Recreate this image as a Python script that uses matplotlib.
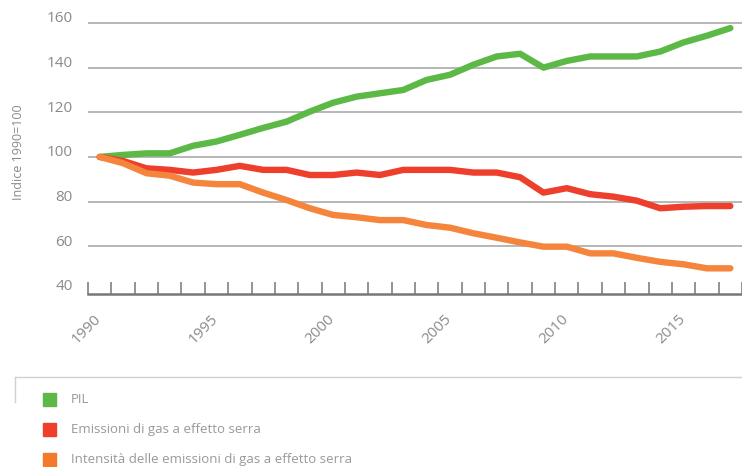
import numpy as np
import matplotlib.pyplot as plt
from matplotlib.patches import Rectangle
from matplotlib.lines import Line2D
import matplotlib.transforms as mtransforms

# %%
# Data (index 1990 = 100)
# -----------------------

years = list(range(1990, 2018))
pil = [100, 100.9, 101.6, 101.6, 105, 106.9, 109.9, 113, 115.8, 120.3,
       124.3, 127, 128.5, 130, 134.5, 136.8, 141.3, 145, 146.2, 140,
       143, 145, 145, 145, 147.2, 151.3, 154.3, 157.7]
emissioni = [100, 98.2, 94.9, 94.2, 93, 94.2, 96, 94.2, 94.2, 91.9,
             91.9, 93, 91.9, 94.2, 94.2, 94.2, 93, 93, 90.9, 84,
             86, 83.3, 82.2, 80.4, 77, 77.7, 78, 78]
intensita = [100, 97.2, 92.7, 91.6, 88.5, 87.8, 87.8, 84, 80.7, 77,
             74, 73, 71.7, 71.7, 69.5, 68.3, 65.8, 63.8, 61.7, 59.8,
             59.8, 56.8, 56.8, 54.8, 53, 51.9, 50.1, 50.1]

labels = ["PIL", "Emissioni di gas a effetto serra",
          "Intensità delle emissioni di gas a effetto serra"]
colors = ["#5cb946", "#ee3f2d", "#f5843c"]
legend_colors = ["#5cb946", "#ee3f2d", "#f47a2b"]
yticks = [40, 60, 80, 100, 120, 140, 160]

# %%
# Plot
# ----

plt.rcParams['font.family'] = ['Open Sans', 'DejaVu Sans']
grey_txt = "#8a8a8a"

W, H = 742, 467
fig = plt.figure(figsize=(W / 100, H / 100), dpi=100)
ax = fig.add_axes([88 / W, 1 - 294 / H, (W - 88) / W, (294 - 18.5) / H])

x = np.arange(len(years))
for series, c in zip([pil, emissioni, intensita], colors):
    ax.plot(x, series, color=c, lw=4.6, solid_capstyle="round",
            solid_joinstyle="round", zorder=3)

ax.set_xlim(-0.47, 27.13)
ax.set_ylim(38.6, 162)

# horizontal grid
for v in yticks[1:]:
    ax.axhline(v, color="#aaaaaa", lw=1.2, zorder=1)

for s in ["top", "right", "left"]:
    ax.spines[s].set_visible(False)
ax.spines["bottom"].set_color("#777777")
ax.spines["bottom"].set_linewidth(1.8)

# y tick labels, slightly above the grid lines
ax.set_yticks(yticks)
ax.tick_params(axis="y", length=0, pad=11, labelsize=11, labelcolor=grey_txt)
off = mtransforms.ScaledTranslation(0, 6 / 100, fig.dpi_scale_trans)
for lab in ax.get_yticklabels():
    lab.set_transform(lab.get_transform() + off)

# x ticks: marks on year boundaries, labels every 5 years
ax.set_xticks(np.arange(0, 28, 5))
ax.set_xticklabels([str(y) for y in years[::5]])
ax.set_xticks(np.arange(-0.5, 28, 1), minor=True)
ax.tick_params(axis="x", which="major", length=0, pad=12.5, labelsize=11,
               labelcolor=grey_txt)
ax.tick_params(axis="x", which="minor", direction="in", length=9,
               width=1.1, color="#777777")
off_x = mtransforms.ScaledTranslation(-6 / 100, 0, fig.dpi_scale_trans)
for lab in ax.get_xticklabels():
    lab.set_rotation(45)
    lab.set_ha("right")
    lab.set_va("top")
    lab.set_rotation_mode("anchor")
    lab.set_transform(lab.get_transform() + off_x)

fig.text(19 / W, 1 - 152 / H, "Indice 1990=100", rotation=90, ha="center",
         va="center", fontsize=9, color=grey_txt)

# legend box (top and left border only)
fig.add_artist(Line2D([15 / W, 1], [1 - 377 / H, 1 - 377 / H],
                      color="#d0d0d0", lw=1.0))
fig.add_artist(Line2D([15 / W, 15 / W], [1 - 377 / H, 1 - 402 / H],
                      color="#d0d0d0", lw=1.0))

for i, (lab, c) in enumerate(zip(labels, legend_colors)):
    yc = 399.5 + i * 29.8
    fig.add_artist(Rectangle((43 / W, 1 - (yc + 6.5) / H), 13 / W, 13 / H,
                             color=c, transform=fig.transFigure))
    fig.text(71 / W, 1 - yc / H, lab, ha="left", va="center",
             fontsize=9.5, color="#999999")

fig.savefig("out.png", dpi=100)
